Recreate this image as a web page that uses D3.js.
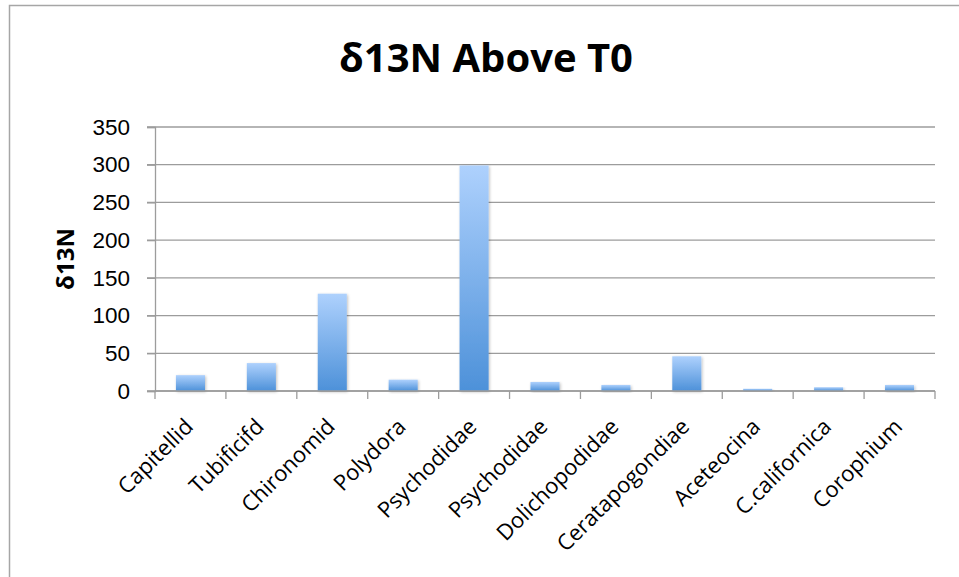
<!DOCTYPE html>
<html>
<head>
<meta charset="utf-8">
<script src="https://cdn.jsdelivr.net/npm/d3@7"></script>
<style>
  html, body { margin: 0; padding: 0; background: #fff; }
  svg { display: block; font-family: "Open Sans", "Liberation Sans", sans-serif; }
</style>
</head>
<body>
<div id="chart"></div>
<script>
// chart data
const categories = ['Capitellid', 'Tubificifd', 'Chironomid', 'Polydora', 'Psychodidae',
  'Psychodidae', 'Dolichopodidae', 'Ceratapogondiae', 'Aceteocina', 'C.californica', 'Corophium'];
const values = [21, 37, 129, 15, 299, 12, 8, 46, 3, 5, 8];
const yTicks = [0, 50, 100, 150, 200, 250, 300, 350];
const title = 'δ13N Above T0';
const yLabel = 'δ13N';

const W = 959, H = 577;
const margin = { top: 127, right: 24, bottom: 186, left: 155 };
const width = W - margin.left - margin.right;
const height = H - margin.top - margin.bottom;

const svg = d3.select('#chart').append('svg')
  .attr('width', W)
  .attr('height', H);

// outer chart frame (runs off the right/bottom edge like the reference)
svg.append('rect')
  .attr('x', 9.5).attr('y', 5.5)
  .attr('width', W + 20).attr('height', H + 20)
  .attr('fill', '#fff')
  .attr('stroke', '#a6a6a6')
  .attr('stroke-width', 1.5);

const defs = svg.append('defs');
const grad = defs.append('linearGradient')
  .attr('id', 'barGrad')
  .attr('x1', 0).attr('y1', 0).attr('x2', 0).attr('y2', 1);
grad.append('stop').attr('offset', '0%').attr('stop-color', '#aed1fd');
grad.append('stop').attr('offset', '100%').attr('stop-color', '#4d91d9');

const shadow = defs.append('filter').attr('id', 'shadow')
  .attr('x', '-20%').attr('y', '-20%').attr('width', '140%').attr('height', '140%');
shadow.append('feGaussianBlur').attr('in', 'SourceAlpha').attr('stdDeviation', 1.5);
shadow.append('feOffset').attr('dx', 1).attr('dy', 1).attr('result', 'blur');
shadow.append('feComponentTransfer').append('feFuncA').attr('type', 'linear').attr('slope', 0.25);
const merge = shadow.append('feMerge');
merge.append('feMergeNode');
merge.append('feMergeNode').attr('in', 'SourceGraphic');

const g = svg.append('g').attr('transform', `translate(${margin.left},${margin.top})`);

const x = d3.scaleBand().domain(d3.range(categories.length)).range([0, width]).padding(0);
const y = d3.scaleLinear().domain([0, 350]).range([height, 0]);

// Gridlines
g.append('g')
  .selectAll('line')
  .data(yTicks).enter().append('line')
  .attr('x1', -8).attr('x2', width)
  .attr('y1', d => y(d)).attr('y2', d => y(d))
  .attr('stroke', '#9c9c9c')
  .attr('stroke-width', 1.3);

// Y axis
const yAxis = g.append('g')
  .call(d3.axisLeft(y).tickValues(yTicks).tickSize(8).tickPadding(17));
yAxis.select('.domain').attr('stroke', '#9c9c9c').attr('stroke-width', 1.3);
yAxis.selectAll('.tick line').attr('stroke', '#9c9c9c').attr('stroke-width', 1.3);
yAxis.selectAll('text')
  .style('font-size', '22.5px')
  .style('fill', '#000');

// Bars
const barFrac = 0.41;
g.selectAll('.bar')
  .data(values).enter().append('rect')
  .attr('class', 'bar')
  .attr('x', (d, i) => x(i) + x.bandwidth() * (1 - barFrac) / 2)
  .attr('width', x.bandwidth() * barFrac)
  .attr('y', d => y(d))
  .attr('height', d => height - y(d))
  .attr('fill', 'url(#barGrad)')
  .attr('filter', 'url(#shadow)');

// X axis
const xAxisG = g.append('g').attr('transform', `translate(0,${height})`);
xAxisG.append('line')
  .attr('x1', 0).attr('x2', width)
  .attr('stroke', '#9c9c9c').attr('stroke-width', 1.3);
xAxisG.selectAll('.xtick')
  .data(d3.range(categories.length + 1)).enter().append('line')
  .attr('x1', i => i * x.step()).attr('x2', i => i * x.step())
  .attr('y1', 0).attr('y2', 8)
  .attr('stroke', '#9c9c9c').attr('stroke-width', 1.3);

xAxisG.selectAll('.xlabel')
  .data(categories).enter().append('text')
  .attr('transform', (d, i) => `translate(${x(i) + x.bandwidth() / 2 + 4},${37}) rotate(-45)`)
  .attr('text-anchor', 'end')
  .style('font-size', '22px')
  .style('fill', '#000')
  .text(d => d);

// Y label
svg.append('text')
  .attr('transform', `translate(74,${margin.top + height / 2}) rotate(-90)`)
  .attr('text-anchor', 'middle')
  .style('font-size', '24px')
  .style('font-weight', '700')
  .text(yLabel);

// Title
svg.append('text')
  .attr('x', 486)
  .attr('y', 72)
  .attr('text-anchor', 'middle')
  .style('font-size', '40px')
  .style('font-weight', '700')
  .text(title);
</script>
</body>
</html>
